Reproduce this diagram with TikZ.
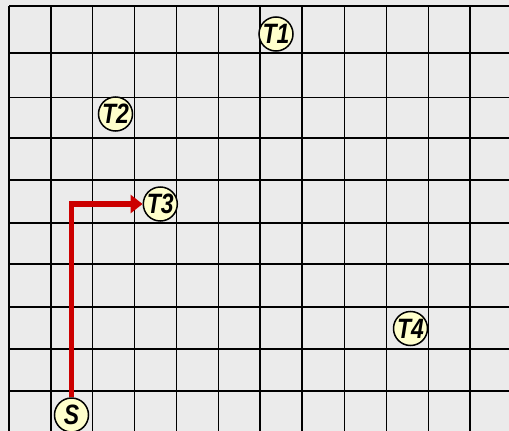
\documentclass[tikz,border=0pt]{standalone}
\usepackage{fontspec}
\setmainfont{Liberation Sans}
\usetikzlibrary{arrows.meta}
\definecolor{bggray}{RGB}{235,235,235}
\definecolor{tokfill}{RGB}{255,255,204}
\definecolor{pathred}{RGB}{204,0,0}
\tikzset{
  gridline/.style={black, line width=1.8pt},
  token/.style={circle, draw=black, line width=1.5pt, fill=tokfill, minimum size=34pt, inner sep=0pt,
    font=\fontsize{28}{28}\selectfont\bfseries\itshape},
  route/.style={pathred, line width=5.5pt, line join=miter, -{Triangle[length=12pt,width=18pt]}}
}
\begin{document}
\begin{tikzpicture}[x=1pt,y=-1pt]
\fill[bggray] (0,0) rectangle (509,431);
\useasboundingbox (0,0) rectangle (509,431);
\foreach \yy in {6,53,97.5,138,180,223,264,307,349,391}
  \draw[gridline] (9,\yy) -- (512,\yy);
\foreach \xx in {9,51,92.5,134.5,176.5,218.5,260,302,344.5,386.5,428.5,470}
  \draw[gridline] (\xx,6) -- (\xx,434);
\node[token] (t1) at (276,34) {\scalebox{0.82}[1]{T1}};
\node[token] (t2) at (115.5,114) {\scalebox{0.82}[1]{T2}};
\node[token] (t3) at (160.3,204) {\scalebox{0.82}[1]{T3}};
\node[token] (t4) at (410.5,328.5) {\scalebox{0.82}[1]{T4}};
\node[token] (s) at (71.5,415) {\scalebox{0.82}[1]{S}};
\draw[route] (s.north) |- (t3.west);
\end{tikzpicture}
\end{document}
